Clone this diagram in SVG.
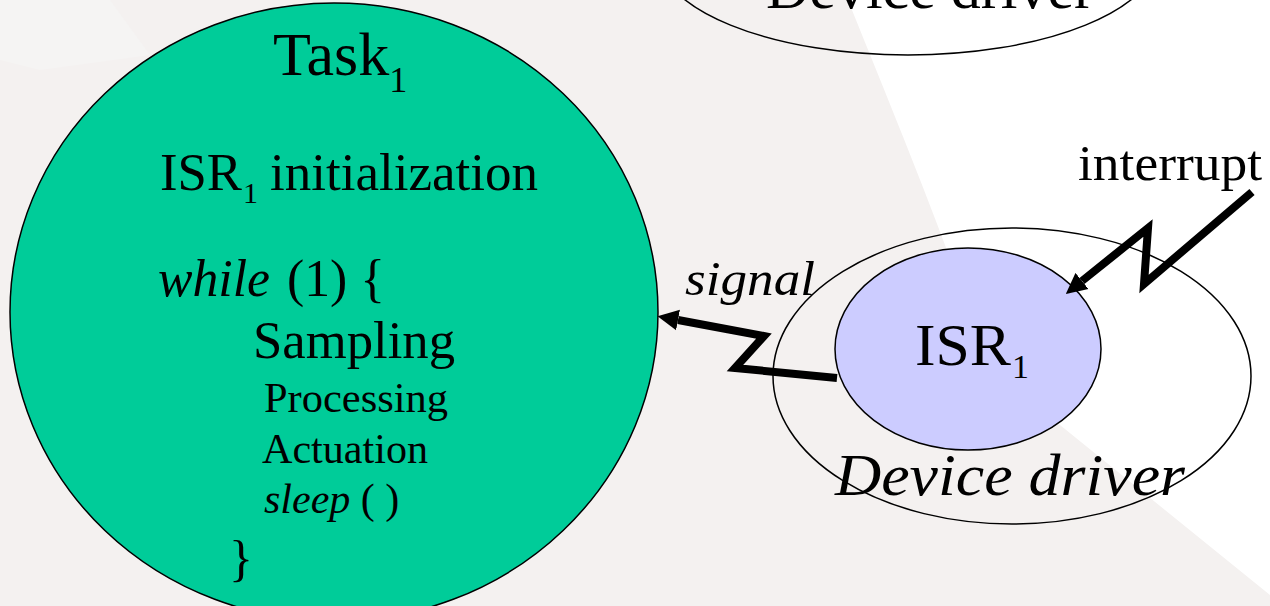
<svg xmlns="http://www.w3.org/2000/svg" width="1270" height="606" viewBox="0 0 1270 606">
  <style>
    text { font-family: "Liberation Serif", "Times New Roman", serif; fill: #000; }
    .it { font-style: italic; }
    .outline { stroke: #000; stroke-width: 1.5; }
    .bolt { fill: none; stroke: #000; stroke-width: 8; stroke-linejoin: miter; stroke-linecap: butt; }
  </style>
  <defs>
    <marker id="head" viewBox="0 0 10 10" refX="0" refY="5" markerWidth="2.6" markerHeight="2.8" markerUnits="strokeWidth" orient="auto">
      <path d="M0,0 L10,5 L0,10 Z" fill="#000"/>
    </marker>
  </defs>

  <!-- backdrop: grey swoosh with white area to the right -->
  <rect x="0" y="0" width="1270" height="606" fill="#f4f1f0"/>
  <path d="M0,0 L110,0 L150,55 L40,70 L0,60 Z" fill="#f5f4f3"/>
  <path d="M848,0 C880,80 930,200 965,300 C990,370 1010,405 1060,425 L1270,595 L1270,0 Z" fill="#ffffff"/>

  <!-- upper device driver (partially off the top edge) -->
  <g id="driver-top">
    <ellipse cx="908" cy="-47" rx="251" ry="102" fill="none" class="outline"/>
    <text x="930" y="8" font-size="60" text-anchor="middle">Device driver</text>
  </g>

  <!-- Task 1 -->
  <g id="task1">
    <ellipse cx="334" cy="312" rx="324" ry="309" fill="#00cc99" class="outline"/>
    <text x="273" y="75" font-size="62">Task<tspan font-size="36" dy="17">1</tspan></text>
    <text x="160" y="190" font-size="53" textLength="82" lengthAdjust="spacingAndGlyphs">ISR</text>
    <text x="243" y="203" font-size="30">1</text>
    <text x="270" y="190" font-size="53" textLength="268" lengthAdjust="spacingAndGlyphs">initialization</text>
    <text x="158" y="296" font-size="52" class="it" textLength="112" lengthAdjust="spacingAndGlyphs">while</text>
    <text x="287" y="296" font-size="52" textLength="98" lengthAdjust="spacingAndGlyphs">(1) {</text>
    <text x="253" y="358" font-size="53" textLength="202" lengthAdjust="spacingAndGlyphs">Sampling</text>
    <text x="264" y="412" font-size="43" textLength="184" lengthAdjust="spacingAndGlyphs">Processing</text>
    <text x="262" y="463" font-size="43" textLength="166" lengthAdjust="spacingAndGlyphs">Actuation</text>
    <text x="264" y="513" font-size="42"><tspan class="it">sleep</tspan> ( )</text>
    <text x="229" y="575" font-size="50">}</text>
  </g>

  <!-- lower device driver containing ISR 1 -->
  <g id="driver">
    <ellipse cx="1012" cy="376" rx="239" ry="148" fill="none" class="outline"/>
    <text x="835" y="495" font-size="60" class="it" textLength="350" lengthAdjust="spacingAndGlyphs">Device driver</text>
  </g>

  <g id="isr1">
    <ellipse cx="968" cy="349" rx="133" ry="101" fill="#ccccff" class="outline"/>
    <text x="915" y="365" font-size="60" textLength="96" lengthAdjust="spacingAndGlyphs">ISR</text>
    <text x="1012" y="378" font-size="34">1</text>
  </g>

  <!-- labels of the connectors -->
  <g id="labels">
    <text x="685" y="295" font-size="48" class="it" textLength="130" lengthAdjust="spacingAndGlyphs">signal</text>
    <text x="1078" y="180" font-size="50" textLength="184" lengthAdjust="spacingAndGlyphs">interrupt</text>
  </g>

  <!-- lightning connectors -->
  <g id="connectors">
    <path class="bolt" d="M837,378 L735,368 L764,336 L678,320" marker-end="url(#head)"/>
    <path class="bolt" d="M1252,192 L1144,284 L1148,228 L1082,281" marker-end="url(#head)"/>
  </g>
</svg>
